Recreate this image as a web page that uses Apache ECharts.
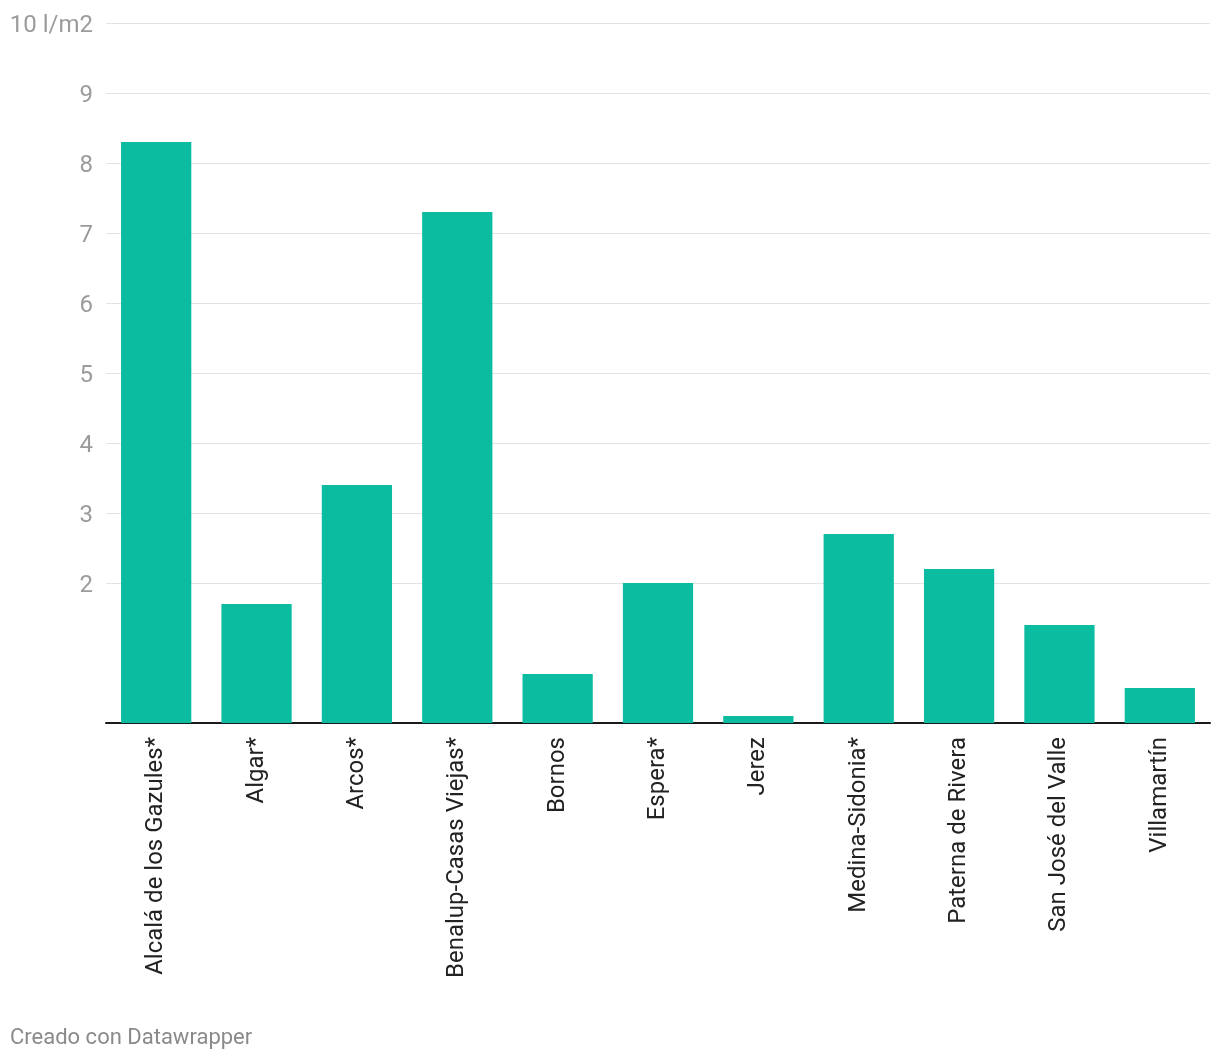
<!DOCTYPE html>
<html>
<head>
<meta charset="utf-8">
<script src="https://cdn.jsdelivr.net/npm/echarts@6/dist/echarts.min.js"></script>
<style>
html,body{margin:0;padding:0;background:#fff;}
#chart{width:1220px;height:1062px;}
</style>
</head>
<body>
<div id="chart"></div>
<script>
const categories = ["Alcalá de los Gazules*", "Algar*", "Arcos*", "Benalup-Casas Viejas*", "Bornos", "Espera*", "Jerez", "Medina-Sidonia*", "Paterna de Rivera", "San José del Valle", "Villamartín"];
const values = [8.3, 1.7, 3.4, 7.3, 0.7, 2.0, 0.1, 2.7, 2.2, 1.4, 0.5];
const yTicks = [0, 1, 2, 3, 4, 5, 6, 7, 8, 9, 10];
const hiddenTicks = [0, 1];
const unitLabel = "10 l/m2";

const chart = echarts.init(document.getElementById('chart'), null, {renderer: 'canvas'});
const gridColors = yTicks.map(t => hiddenTicks.includes(t) ? 'rgba(0,0,0,0)' : '#e3e3e3');
chart.setOption({
  animation: false,
  textStyle: {fontFamily: 'Roboto'},
  grid: {left: 106, right: 10, top: 23, bottom: 339, containLabel: false},
  xAxis: {
    type: 'category',
    data: categories,
    axisLine: {show: true, lineStyle: {color: '#1a1a1a', width: 2}},
    axisTick: {show: false},
    axisLabel: {rotate: 90, margin: 14, fontSize: 24, color: '#222', fontFamily: 'Roboto', interval: 0}
  },
  yAxis: {
    type: 'value',
    min: 0, max: 10, interval: 1,
    axisLine: {show: false},
    axisTick: {show: false},
    splitLine: {show: true, lineStyle: {color: gridColors, width: 1}},
    axisLabel: {
      fontSize: 24, color: '#9b9b9b', fontFamily: 'Roboto', margin: 13,
      formatter: function (v) {
        if (hiddenTicks.includes(v)) return '';
        const t = v === 10 ? unitLabel : String(v);
        return '{a|' + t + '}';
      },
      rich: {
        a: {fontSize: 24, color: '#9b9b9b', fontFamily: 'Roboto', padding: [5, 0, 0, 0]}
      }
    }
  },
  series: [{
    type: 'bar',
    data: values,
    barCategoryGap: '30%',
    itemStyle: {color: '#0bbca0'}
  }],
  graphic: [{
    type: 'text',
    left: 10, top: 1027,
    style: {text: 'Creado con Datawrapper', fontSize: 22, fill: '#8a8a8a', fontFamily: 'Roboto'}
  }]
});
</script>
</body>
</html>
